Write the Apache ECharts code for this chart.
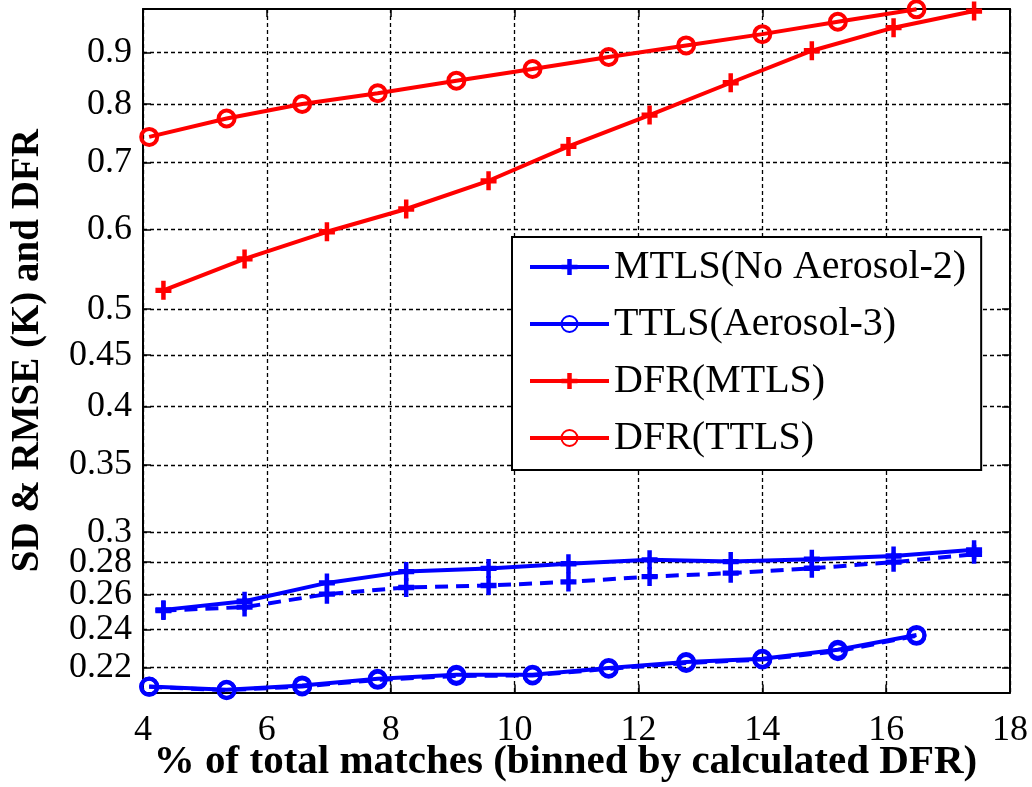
<!DOCTYPE html>
<html>
<head>
<meta charset="utf-8">
<script src="https://cdn.jsdelivr.net/npm/echarts@6/dist/echarts.min.js"></script>
<style>html,body{margin:0;padding:0;background:#fff;}#c{width:1032px;height:787px;}</style>
</head>
<body>
<div id="c"></div>
<script>
// ---- data ----
const xTtls = [4.10, 5.35, 6.57, 7.79, 9.06, 10.29, 11.52, 12.77, 14.00, 15.22, 16.49];
const xMtls = [4.33, 5.64, 6.97, 8.25, 9.58, 10.87, 12.18, 13.49, 14.80, 16.12, 17.42];
const dfrTtls = [0.742, 0.774, 0.800, 0.820, 0.844, 0.867, 0.891, 0.915, 0.939, 0.966, 0.994];
const dfrMtls = [0.522, 0.561, 0.597, 0.629, 0.671, 0.726, 0.780, 0.840, 0.904, 0.953, 0.990];
const mtlsSolid = [0.251, 0.256, 0.267, 0.274, 0.276, 0.279, 0.2815, 0.2804, 0.2819, 0.284, 0.288];
const mtlsDashed = [0.2506, 0.2526, 0.2602, 0.2642, 0.2654, 0.2676, 0.2709, 0.273, 0.2761, 0.280, 0.2851];
const ttlsSolid = [0.2106, 0.209, 0.2111, 0.2143, 0.2163, 0.2163, 0.2197, 0.2227, 0.2244, 0.2291, 0.237];
const ttlsDashed = [0.2104, 0.2088, 0.2106, 0.2138, 0.2157, 0.2160, 0.2193, 0.2222, 0.2240, 0.2283, 0.2365];
const yTicks = [0.22, 0.24, 0.26, 0.28, 0.3, 0.35, 0.4, 0.45, 0.5, 0.6, 0.7, 0.8, 0.9];
const xTicks = [4, 6, 8, 10, 12, 14, 16, 18];
const legendNames = ['MTLS(No Aerosol-2)', 'TTLS(Aerosol-3)', 'DFR(MTLS)', 'DFR(TTLS)'];
const yMin = 0.2077, yMax = 0.9947;

// ---- helpers ----
const L = Math.log10;
const pts = (xs, ys) => xs.map((x, i) => [x, L(ys[i])]);
const BLUE = '#0000ff', RED = '#ff0000';
const PLUS = 'path://M3.6,0 H6.4 V3.6 H10 V6.4 H6.4 V10 H3.6 V6.4 H0 V3.6 H3.6 Z';
const SERIF = '"Liberation Serif", "DejaVu Serif", serif';
const yCustom = yTicks.map(L);
const yFmt = v => {
  let best = yTicks[0];
  yTicks.forEach(t => { if (Math.abs(L(t) - v) < Math.abs(L(best) - v)) best = t; });
  return String(best);
};

function plusSeries(name, xs, ys, color, dashed) {
  return {
    name, type: 'line', data: pts(xs, ys), clip: false, showAllSymbol: true,
    symbol: PLUS, symbolSize: [16, 19],
    itemStyle: { color },
    lineStyle: { color, width: 4, type: dashed ? [13, 8] : 'solid' },
    emphasis: { disabled: true }, z: 3
  };
}
function circSeries(name, xs, ys, color, dashed) {
  return {
    name, type: 'line', data: pts(xs, ys), clip: false, showAllSymbol: true,
    symbol: 'circle', symbolSize: 16,
    itemStyle: { color: 'rgba(255,255,255,0)', borderColor: color, borderWidth: 4 },
    lineStyle: { color, width: 4, type: dashed ? [13, 8] : 'solid' },
    emphasis: { disabled: true }, z: 3
  };
}

const gridLine = { show: true, lineStyle: { color: '#000', width: 1.3, type: [4, 3] } };
const frame = { show: true, onZero: false, lineStyle: { color: '#000', width: 2 } };
const tick = { show: true, inside: true, length: 8, lineStyle: { color: '#000', width: 1.5 } };

const chart = echarts.init(document.getElementById('c'), null, { renderer: 'canvas' });
chart.setOption({
  animation: false,
  backgroundColor: '#fff',
  grid: { left: 143, right: 22, top: 9, bottom: 94.5, containLabel: false, outerBoundsMode: 'none' },
  xAxis: [
    {
      type: 'value', min: 4, max: 18, interval: 2, position: 'bottom',
      axisLine: frame, axisTick: tick, splitLine: gridLine,
      axisLabel: { color: '#000', fontFamily: SERIF, fontSize: 36, margin: 20,
        customValues: xTicks, formatter: v => String(v) },
      name: '% of total matches (binned by calculated DFR)', nameLocation: 'middle', nameGap: 49,
      nameMoveOverlap: false,
      nameTextStyle: { color: '#000', fontFamily: SERIF, fontWeight: 'bold', fontSize: 41, padding: [0, 22, 0, 0] }
    },
    {
      type: 'value', min: 4, max: 18, interval: 2, position: 'top',
      axisLine: frame, axisTick: tick, splitLine: { show: false }, axisLabel: { show: false }
    }
  ],
  yAxis: [
    {
      type: 'value', min: L(yMin), max: L(yMax), position: 'left',
      axisLine: frame,
      axisTick: Object.assign({}, tick, { customValues: yCustom }),
      splitLine: gridLine,
      axisLabel: { color: '#000', fontFamily: SERIF, fontSize: 36, margin: 11,
        customValues: yCustom, formatter: yFmt },
      name: 'SD & RMSE (K) and DFR', nameLocation: 'middle', nameGap: 96,
      nameMoveOverlap: false,
      nameTextStyle: { color: '#000', fontFamily: SERIF, fontWeight: 'bold', fontSize: 39 }
    },
    {
      type: 'value', min: L(yMin), max: L(yMax), position: 'right',
      axisLine: frame,
      axisTick: Object.assign({}, tick, { customValues: yCustom }),
      splitLine: { show: false }, axisLabel: { show: false }
    }
  ],
  legend: {
    data: legendNames, orient: 'vertical', left: 512, top: 237,
    itemWidth: 79, itemHeight: 20, itemGap: 17,
    padding: [10, 15, 12, 16],
    backgroundColor: '#fff', borderColor: '#000', borderWidth: 2, borderRadius: 0,
    selectedMode: false,
    lineStyle: { width: 4 },
    textStyle: { color: '#000', fontFamily: SERIF, fontSize: 40 }
  },
  series: [
    plusSeries(legendNames[0], xMtls, mtlsSolid, BLUE, false),
    plusSeries('MTLS(No Aerosol-2) dashed', xMtls, mtlsDashed, BLUE, true),
    circSeries(legendNames[1], xTtls, ttlsSolid, BLUE, false),
    circSeries('TTLS(Aerosol-3) dashed', xTtls, ttlsDashed, BLUE, true),
    plusSeries(legendNames[2], xMtls, dfrMtls, RED, false),
    circSeries(legendNames[3], xTtls, dfrTtls, RED, false)
  ]
});
</script>
</body>
</html>
